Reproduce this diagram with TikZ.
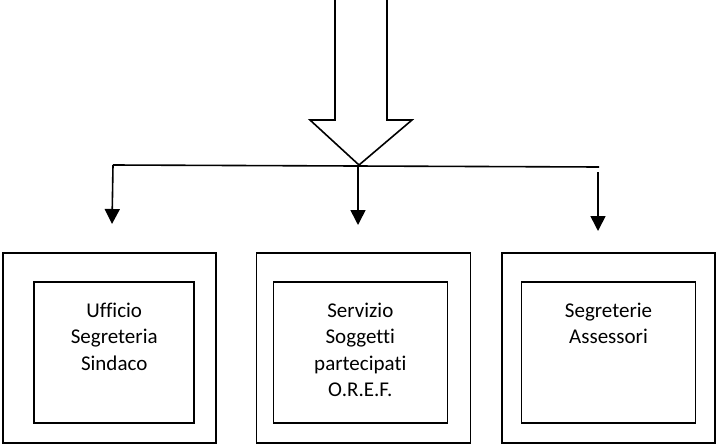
\documentclass[tikz,border=0pt]{standalone}
\usepackage{fontspec}
\setmainfont[Ligatures=NoCommon]{Carlito}
\usetikzlibrary{arrows.meta}

\begin{document}
\begin{tikzpicture}[x=1pt,y=-1pt,line width=1.6pt,
    outer/.style={draw,minimum width=214pt,minimum height=190pt,inner sep=0pt},
    inner/.style={draw,minimum height=141pt,inner sep=0pt},
    lab/.style={anchor=north,align=center,inner sep=0pt,font=\fontsize{21}{26.5}\selectfont},
    tip/.style={-{Triangle[length=15pt,width=15pt]}}]
\useasboundingbox (0,0) rectangle (719,444);

% freccia grande
\draw[line join=miter] (335,-2) -- (335,120) -- (310,120) -- (359,165) -- (412,120) -- (387,120) -- (387,-2);

% linea orizzontale e frecce verso gli uffici
\coordinate (hl) at (113,165);
\coordinate (hr) at (599,167);
\coordinate (hm) at (358,166);
\coordinate (la) at (112,224);
\coordinate (ma) at (358,225);
\coordinate (rt) at (598,172);
\coordinate (ra) at (598,231);
\draw (hl) -- (hr);
\draw[tip] (hl) -- (la);
\draw[tip] (hm) -- (ma);
\draw[tip] (rt) -- (ra);

% riquadri
\node[outer,minimum width=213pt] (sindout) at (109.2,347.7) {};
\node[outer] (servout) at (363.4,347.7) {};
\node[outer,minimum width=213pt] (assout) at (608.7,347.7) {};

\node[inner,minimum width=160pt] (sind) at (114.2,352.4) {};
\node[inner,minimum width=174pt] (serv) at (360.3,352.4) {};
\node[inner,minimum width=174pt] (ass) at (608.5,352.4) {};

\node[lab] (sindtxt) at ([yshift=-17pt]sind.north) {\strut Ufficio\\Segreteria\\Sindaco};
\node[lab] (servtxt) at ([yshift=-17pt]serv.north) {\strut Servizio\\Soggetti\\partecipati\\O.R.E.F.};
\node[lab] (asstxt) at ([yshift=-17pt]ass.north) {\strut Segreterie\\Assessori};
\end{tikzpicture}
\end{document}
